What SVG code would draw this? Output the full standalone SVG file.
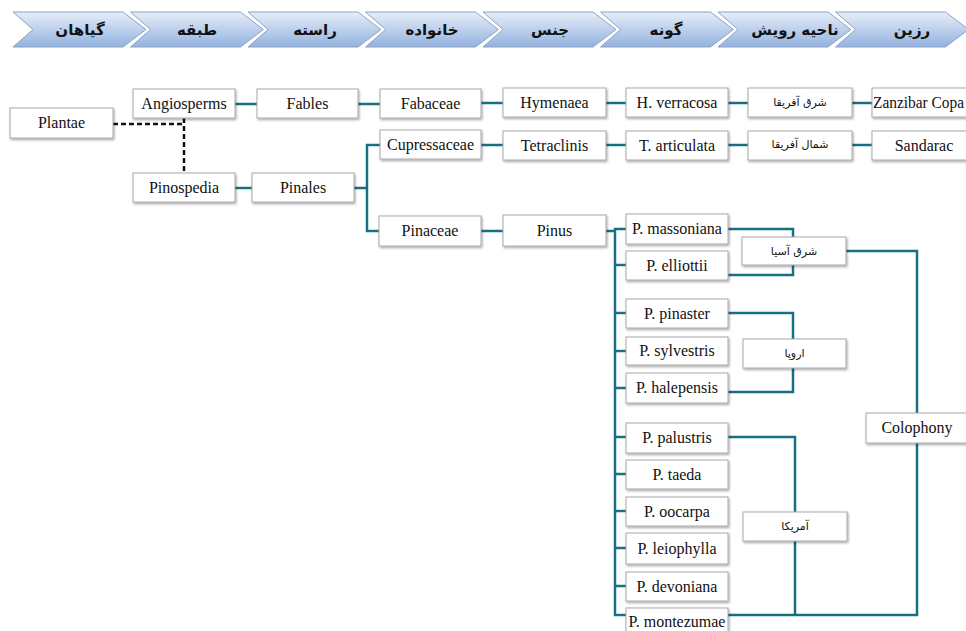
<svg xmlns="http://www.w3.org/2000/svg" width="966" height="631" viewBox="0 0 966 631">
<style>
.bg{fill:#ffffff}
.chev{fill:url(#hg);stroke:#8ea3c2;stroke-width:1}
.ht{font-family:"DejaVu Sans",sans-serif;font-weight:bold;font-size:15px;fill:#111;text-anchor:middle}
.box{fill:#ffffff;stroke:#a9a9a9;stroke-width:1;filter:url(#sh)}
.t{font-family:"Liberation Serif",serif;font-size:16px;fill:#111;text-anchor:middle}
.ta{font-family:"DejaVu Sans",sans-serif;font-size:11px;fill:#111;text-anchor:middle}
.c{fill:none;stroke:#16707f;stroke-width:2.5}
.d{fill:none;stroke:#111;stroke-width:2.5;stroke-dasharray:5 3}
</style>
<defs>
<linearGradient id="hg" x1="0" y1="0" x2="0" y2="1">
<stop offset="0" stop-color="#e6eef9"/>
<stop offset="1" stop-color="#93b2df"/>
</linearGradient>
<filter id="sh" x="-10%" y="-20%" width="130%" height="160%">
<feDropShadow dx="1" dy="1.5" stdDeviation="1" flood-color="#000" flood-opacity="0.35"/>
</filter>
</defs>
<rect class="bg" x="0" y="0" width="966" height="631"/>
<g id="header">
<path class="chev" d="M13,12 H123 L146,29.5 L123,47 H13 L33,29.5 Z"/>
<text class="ht" x="80" y="35">گیاهان</text>
<path class="chev" d="M130.5,12 H240.5 L263.5,29.5 L240.5,47 H130.5 L150.5,29.5 Z"/>
<text class="ht" x="197" y="35">طبقه</text>
<path class="chev" d="M248,12 H358 L381,29.5 L358,47 H248 L268,29.5 Z"/>
<text class="ht" x="315" y="35">راسته</text>
<path class="chev" d="M365.5,12 H475.5 L498.5,29.5 L475.5,47 H365.5 L385.5,29.5 Z"/>
<text class="ht" x="432" y="35">خانواده</text>
<path class="chev" d="M483,12 H593 L616,29.5 L593,47 H483 L503,29.5 Z"/>
<text class="ht" x="550" y="35">جنس</text>
<path class="chev" d="M600.5,12 H710.5 L733.5,29.5 L710.5,47 H600.5 L620.5,29.5 Z"/>
<text class="ht" x="666" y="35">گونه</text>
<path class="chev" d="M718,12 H828 L851,29.5 L828,47 H718 L738,29.5 Z"/>
<text class="ht" x="795" y="35">ناحیه رویش</text>
<path class="chev" d="M835.5,12 H945.5 L968.5,29.5 L945.5,47 H835.5 L855.5,29.5 Z"/>
<text class="ht" x="912" y="35">رزین</text>
</g>
<g id="connectors">
<path class="d" d="M113,124 H184 M184,118 V173"/>
<path class="c" d="M235,104 H257 M358,104 H380 M481,103 H503 M606,103 H626 M728,103 H748 M852,103 H872"/>
<path class="c" d="M481,145 H503 M606,145 H626 M728,145 H748 M852,145 H872"/>
<path class="c" d="M235,188 H252 M354,188 H367 M380,145 H367 V231 H379"/>
<path class="c" d="M481,231 H503 M606,231 H615 M626,229 H615 V615 H626"/>
<path class="c" d="M615,265 H626 M615,313 H626 M615,351 H626 M615,388 H626 M615,437 H626 M615,474 H626 M615,511 H626 M615,548 H626 M615,586 H626"/>
<path class="c" d="M728,229 H793 V237 M728,275 H793 V265"/>
<path class="c" d="M846,251 H917 V413 M917,443 V615 H728"/>
<path class="c" d="M728,313 H793 V339 M728,392 H793 V368"/>
<path class="c" d="M728,437 H795 V512 M795,541 V615"/>
</g>
<g id="n-plantae"><rect class="box" x="10" y="108" width="103" height="30"/><text class="t" x="61.5" y="128">Plantae</text></g>
<g id="n-angiosperms"><rect class="box" x="133" y="89" width="102" height="29"/><text class="t" x="184" y="109">Angiosperms</text></g>
<g id="n-fables"><rect class="box" x="257" y="89" width="101" height="29"/><text class="t" x="307.5" y="109">Fables</text></g>
<g id="n-fabaceae"><rect class="box" x="380" y="89" width="101" height="29"/><text class="t" x="430.5" y="109">Fabaceae</text></g>
<g id="n-hymenaea"><rect class="box" x="503" y="88" width="103" height="29"/><text class="t" x="554.5" y="108">Hymenaea</text></g>
<g id="n-hverracosa"><rect class="box" x="626" y="88" width="102" height="29"/><text class="t" x="677" y="108">H. verracosa</text></g>
<g id="n-eastafrica"><rect class="box" x="748" y="88" width="104" height="29"/><text class="ta" x="800" y="106">شرق آفریقا</text></g>
<g id="n-zanzibar"><rect class="box" x="872" y="88" width="110" height="29"/><text class="t" x="873" y="108" style="text-anchor:start" textLength="91" lengthAdjust="spacingAndGlyphs">Zanzibar Copa</text></g>
<g id="n-pinospedia"><rect class="box" x="133" y="173" width="102" height="29"/><text class="t" x="184" y="193">Pinospedia</text></g>
<g id="n-pinales"><rect class="box" x="252" y="173" width="102" height="29"/><text class="t" x="303" y="193">Pinales</text></g>
<g id="n-cupressaceae"><rect class="box" x="380" y="130" width="101" height="29"/><text class="t" x="430.5" y="150">Cupressaceae</text></g>
<g id="n-tetraclinis"><rect class="box" x="503" y="131" width="103" height="29"/><text class="t" x="554.5" y="151">Tetraclinis</text></g>
<g id="n-tarticulata"><rect class="box" x="626" y="131" width="102" height="29"/><text class="t" x="677" y="151">T. articulata</text></g>
<g id="n-northafrica"><rect class="box" x="748" y="131" width="104" height="29"/><text class="ta" x="800" y="148">شمال آفریقا</text></g>
<g id="n-sandarac"><rect class="box" x="872" y="131" width="110" height="29"/><text class="t" x="924" y="151">Sandarac</text></g>
<g id="n-pinaceae"><rect class="box" x="379" y="216" width="102" height="30"/><text class="t" x="430" y="236">Pinaceae</text></g>
<g id="n-pinus"><rect class="box" x="503" y="215" width="103" height="31"/><text class="t" x="554.5" y="236">Pinus</text></g>
<g id="n-massoniana"><rect class="box" x="626" y="214" width="102" height="30"/><text class="t" x="677" y="234">P. massoniana</text></g>
<g id="n-elliottii"><rect class="box" x="626" y="251" width="102" height="29"/><text class="t" x="677" y="271">P. elliottii</text></g>
<g id="n-pinaster"><rect class="box" x="626" y="299" width="102" height="29"/><text class="t" x="677" y="319">P. pinaster</text></g>
<g id="n-sylvestris"><rect class="box" x="626" y="337" width="102" height="28"/><text class="t" x="677" y="356">P. sylvestris</text></g>
<g id="n-halepensis"><rect class="box" x="626" y="373" width="102" height="30"/><text class="t" x="677" y="393">P. halepensis</text></g>
<g id="n-palustris"><rect class="box" x="626" y="423" width="102" height="30"/><text class="t" x="677" y="443">P. palustris</text></g>
<g id="n-taeda"><rect class="box" x="626" y="460" width="102" height="29"/><text class="t" x="677" y="480">P. taeda</text></g>
<g id="n-oocarpa"><rect class="box" x="626" y="497" width="102" height="29"/><text class="t" x="677" y="517">P. oocarpa</text></g>
<g id="n-leiophylla"><rect class="box" x="626" y="533" width="102" height="31"/><text class="t" x="677" y="554">P. leiophylla</text></g>
<g id="n-devoniana"><rect class="box" x="626" y="572" width="102" height="29"/><text class="t" x="677" y="592">P. devoniana</text></g>
<g id="n-montezumae"><rect class="box" x="626" y="608" width="102" height="32"/><text class="t" x="677" y="627">P. montezumae</text></g>
<g id="n-eastasia"><rect class="box" x="742" y="237" width="104" height="28"/><text class="ta" x="794" y="255">شرق آسیا</text></g>
<g id="n-europe"><rect class="box" x="743" y="339" width="103" height="29"/><text class="ta" x="794.5" y="357">اروپا</text></g>
<g id="n-america"><rect class="box" x="743" y="512" width="104" height="29"/><text class="ta" x="795" y="530">آمریکا</text></g>
<g id="n-colophony"><rect class="box" x="866" y="413" width="104" height="30"/><text class="t" x="917" y="433">Colophony</text></g>
</svg>
